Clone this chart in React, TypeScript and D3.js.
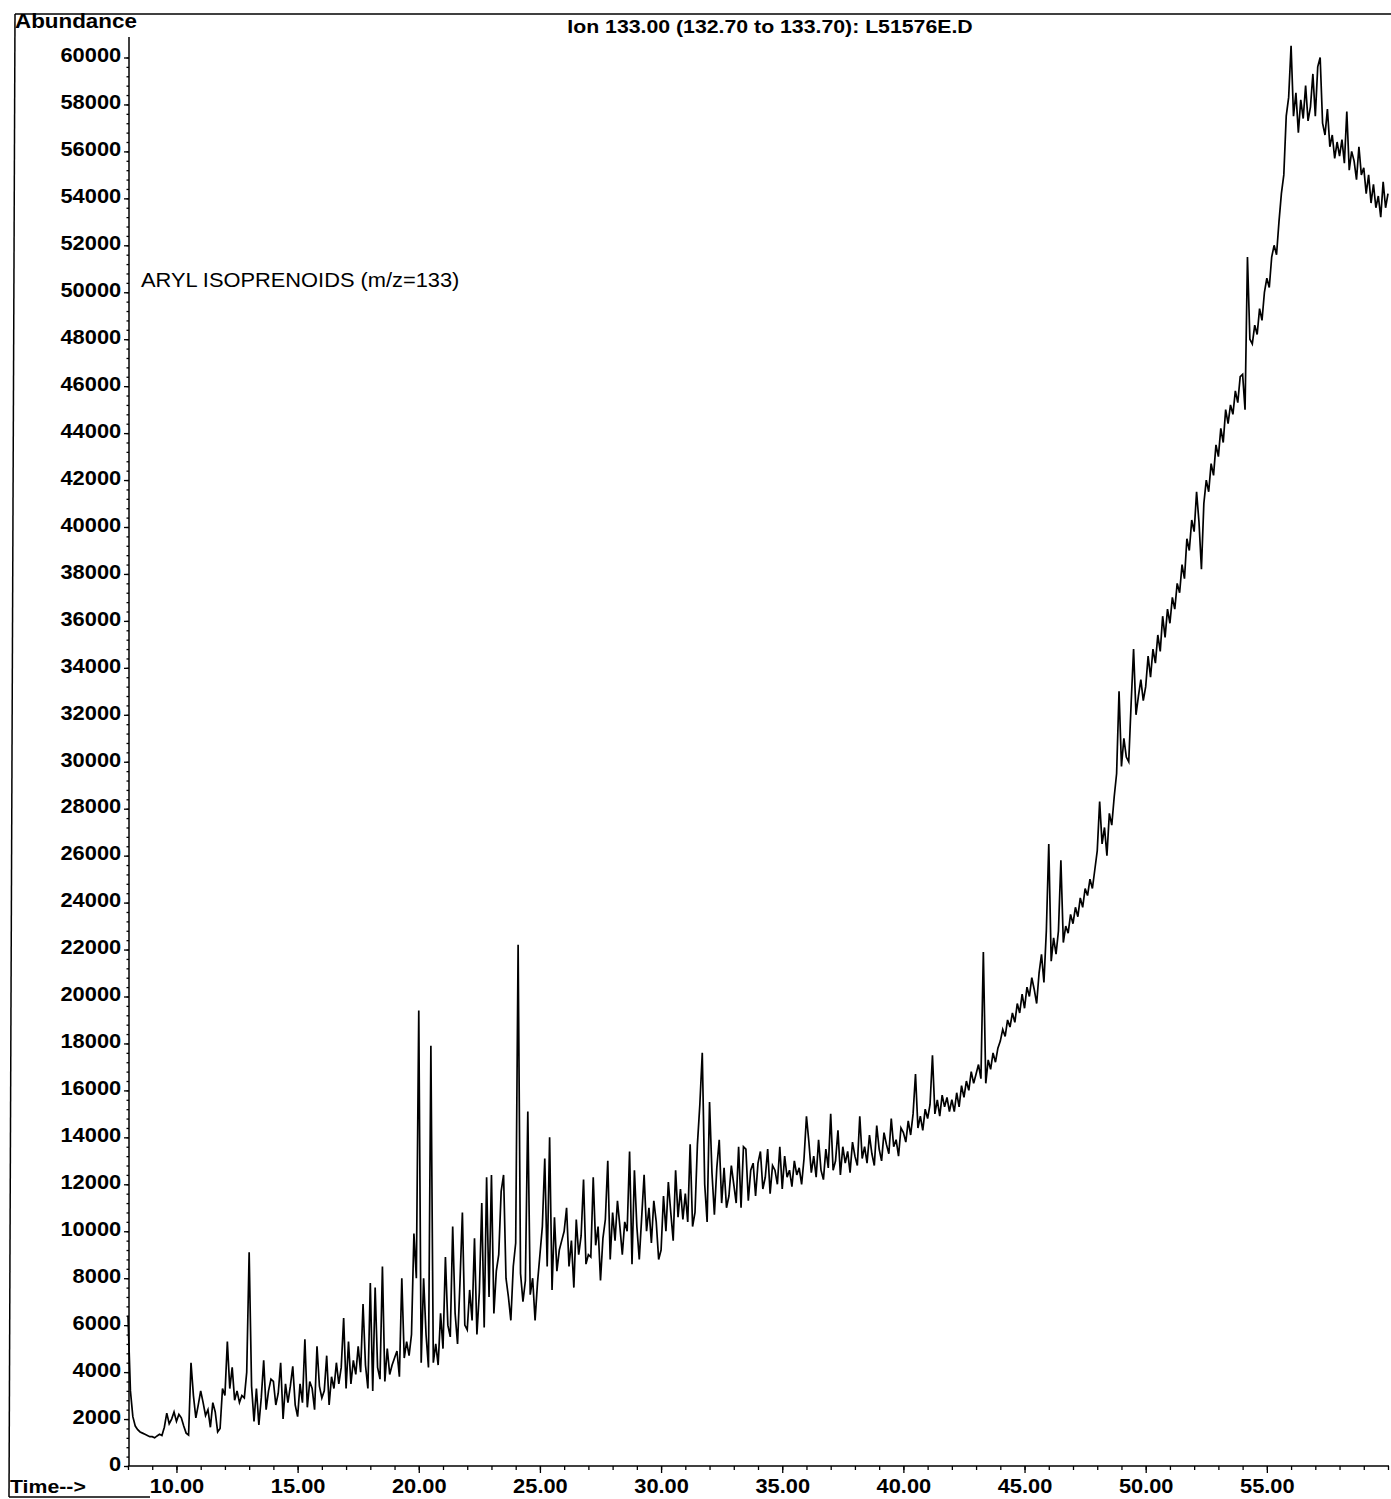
import React, { useEffect, useRef } from "react";
import * as d3 from "d3";

// Sampling grid of the trace (minutes)
const startTime = 8;
const sampleStep = 0.1;

// Abundance, 10 samples per minute
const abundance08to20 = [
  6400, 3200, 2100, 1700, 1550, 1450, 1400, 1350, 1300, 1250,
  1250, 1200, 1280, 1350, 1300, 1650, 2250, 1800, 2000, 2300,
  1900, 2200, 2050, 1700, 1400, 1320, 4400, 3000, 2050, 2600,
  3200, 2700, 2150, 2400, 1650, 2700, 2300, 1450, 1600, 3300,
  3000, 5300, 3300, 4200, 2800, 3200, 2700, 3000, 2900, 4000,
  9100, 3400, 1900, 3300, 1750, 2900, 4500, 2400, 3200, 3700,
  3600, 2600, 3100, 4400, 2000, 3500, 2700, 3400, 4250, 2600,
  2100, 3500, 2700, 5400, 2500, 3600, 3300, 2400, 5100, 3400,
  2900, 3200, 4700, 2600, 3800, 3300, 4400, 3500, 4200, 6300,
  3300, 5300, 3500, 4500, 3900, 5100, 4000, 6900, 4300, 3300,
  7800, 3200, 7600, 4200, 3700, 8500, 3600, 5000, 3900, 4300,
  4600, 4900, 3800, 8000, 4600, 5300, 4700, 5600, 9900, 8000,
];
const abundance20to32 = [
  19400, 4400, 8000, 5600, 4200, 17900, 4400, 5200, 4300, 6500,
  5000, 8900, 6000, 5500, 10200, 6500, 5200, 7800, 10800, 6000,
  5800, 7500, 6200, 9700, 5600, 7400, 11200, 5900, 12300, 7200,
  12400, 6500, 8300, 9000, 11700, 12400, 8000, 7200, 6200, 8500,
  9500, 22200, 8200, 7000, 7900, 15100, 7300, 8000, 6200, 7800,
  9000, 10200, 13100, 8500, 14000, 7500, 10600, 8300, 9200, 9600,
  10000, 11000, 8500, 9600, 7600, 10500, 9000, 9800, 12200, 8600,
  9000, 8900, 12300, 9400, 10200, 7900, 9700, 10500, 13000, 8800,
  10800, 9600, 11300, 10200, 9000, 10400, 10000, 13400, 8600, 12600,
  10200, 8800, 10600, 12400, 10000, 11000, 9500, 11300, 10400, 8800,
  9200, 11500, 10000, 12100, 10800, 9600, 12600, 10600, 11800, 10500,
  11600, 10400, 13700, 10200, 10800, 13700, 15400, 17600, 12000, 10400,
];
const abundance32to44 = [
  15500, 12500, 10700, 12700, 13900, 11200, 12700, 11000, 11500, 12800,
  12000, 11200, 13600, 11000, 13600, 13500, 11300, 12600, 12900, 11500,
  12900, 13400, 11800, 12300, 13500, 11600, 12800, 12600, 12000, 13600,
  11800, 13200, 12300, 12600, 11900, 13000, 12400, 12700, 12000, 13100,
  14900, 13800, 12500, 13200, 12300, 13900, 12600, 12200, 13500, 12700,
  15000, 12600, 13000, 14300, 12400, 13600, 12900, 13400, 12500, 13800,
  13200, 12800, 14900, 13100, 13600, 12900, 14100, 13300, 12800, 14500,
  13500, 13000, 14200, 13700, 13300, 14800, 13600, 13900, 13200, 14400,
  14200, 13800, 14700, 14100, 15000, 16700, 14400, 14900, 14300, 15200,
  14800, 15400, 17500, 15000, 15600, 14900, 15800, 15300, 15700, 15100,
  15600, 15100, 15900, 15300, 16200, 15700, 16400, 16000, 16800, 16300,
  16700, 17100, 16500, 21900, 16300, 17300, 16900, 17600, 17200, 17800,
];
const abundance44to60 = [
  18100, 18600, 18300, 19000, 18700, 19300, 18900, 19700, 19300, 20100,
  19500, 20400, 20000, 20800, 20300, 19700, 21000, 21800, 20600, 22800,
  26500, 21500, 22500, 21800, 22800, 25800, 22300, 23000, 22700, 23500,
  23100, 23800, 23400, 24200, 23800, 24600, 24300, 25000, 24600, 25400,
  26200, 28300, 26500, 27200, 26000, 27800, 27300, 28500, 29500, 33000,
  29800, 31000, 30200, 30000, 32500, 34800, 32000, 32800, 33500, 32600,
  33200, 34500, 33600, 34800, 34200, 35400, 34700, 36200, 35300, 36500,
  35900, 37000, 36500, 37600, 37200, 38400, 37800, 39500, 39000, 40300,
  39800, 41500, 40200, 38200, 41000, 42000, 41500, 42700, 42200, 43500,
  43000, 44200, 43600, 45000, 44400, 45200, 44800, 45800, 45300, 46400,
  46500, 45000, 51500, 48000, 47800, 48600, 48200, 49300, 48800, 50000,
  50600, 50200, 51500, 52000, 51600, 53000, 54200, 55000, 57500, 58300,
  60500, 57500, 58500, 56800, 58200, 57400, 58800, 57300, 57900, 59300,
  57500, 59600, 60000, 57200, 56700, 57800, 56200, 56700, 55700, 56400,
  55800, 56500, 55500, 57700, 55200, 56000, 55600, 54800, 56200, 55000,
  55300, 54200, 55000, 53800, 54600, 53600, 54100, 53200, 54700, 53600,
  54200,
];

const xMajorTicks = [10, 15, 20, 25, 30, 35, 40, 45, 50, 55];
const yMajorTicks = [
  0, 2000, 4000, 6000, 8000, 10000, 12000, 14000, 16000, 18000, 20000,
  22000, 24000, 26000, 28000, 30000, 32000, 34000, 36000, 38000, 40000,
  42000, 44000, 46000, 48000, 50000, 52000, 54000, 56000, 58000, 60000,
];

const titleText = "Ion 133.00 (132.70 to 133.70): L51576E.D";
const yTitle = "Abundance";
const xTitle = "Time-->";
const annotation = "ARYL ISOPRENOIDS (m/z=133)";

const FONT = "'Liberation Sans', Arial, Helvetica, sans-serif";

export default function App() {
  const ref = useRef<SVGSVGElement>(null);

  useEffect(() => {
    const svg = d3.select(ref.current);
    svg.selectAll("*").remove();

    const values = [
      ...abundance08to20,
      ...abundance20to32,
      ...abundance32to44,
      ...abundance44to60,
    ];
    const data = values.map((v, i) => ({ t: startTime + i * sampleStep, v }));

    const x = d3.scaleLinear().domain([8, 60]).range([128, 1388]);
    const y = d3.scaleLinear().domain([0, 60000]).range([1466, 57.5]);
    const axisX = 129;

    svg.append("rect").attr("width", 1391).attr("height", 1499).attr("fill", "#fff");

    // frame lines of the printout
    const frame = svg.append("g").attr("stroke", "#000").attr("fill", "none");
    frame.append("line").attr("x1", 15).attr("y1", 14).attr("x2", 1391).attr("y2", 14).attr("stroke-width", 1.5);
    frame.append("line").attr("x1", 15).attr("y1", 14).attr("x2", 9).attr("y2", 1497).attr("stroke-width", 1.5);
    frame.append("line").attr("x1", 9).attr("y1", 1497).attr("x2", 150).attr("y2", 1497).attr("stroke-width", 1.5);

    // Y axis
    const yMinor = svg.append("g").attr("transform", `translate(${axisX},0)`)
      .call(d3.axisLeft(y).tickValues(d3.range(0, 60001, 400)).tickSize(2.5).tickFormat(() => ""));
    yMinor.select(".domain").remove();
    const yAx = svg.append("g").attr("transform", `translate(${axisX},0)`)
      .call(d3.axisLeft(y).tickValues(yMajorTicks).tickSize(5).tickFormat(d3.format("d")));
    yAx.select(".domain").remove();
    svg.append("line").attr("x1", axisX).attr("x2", axisX).attr("y1", 1466).attr("y2", 37)
      .attr("stroke", "#000").attr("stroke-width", 1.5);

    // X axis
    const xMinor = svg.append("g").attr("transform", "translate(0,1466)")
      .call(d3.axisBottom(x).tickValues(d3.range(8, 61, 1)).tickSize(4).tickFormat(() => ""));
    xMinor.select(".domain").remove();
    const xAx = svg.append("g").attr("transform", "translate(0,1466)")
      .call(d3.axisBottom(x).tickValues(xMajorTicks).tickSize(7).tickFormat((d) => (+d).toFixed(2)));
    xAx.select(".domain").remove();
    svg.append("line").attr("x1", 128).attr("x2", 1389).attr("y1", 1466).attr("y2", 1466)
      .attr("stroke", "#000").attr("stroke-width", 1.5);

    svg.selectAll(".tick line").attr("stroke", "#000").attr("stroke-width", 1.3);
    yAx.selectAll("text")
      .attr("font-family", FONT).attr("font-size", 19.5).attr("font-weight", "bold").attr("fill", "#000")
      .attr("dy", "0.22em").attr("x", -7).attr("transform", "scale(1.12,1)");
    xAx.selectAll("text")
      .attr("font-family", FONT).attr("font-size", 19.5).attr("font-weight", "bold").attr("fill", "#000")
      .attr("y", 13).attr("transform", "scale(1.12,1)");

    // trace
    const line = d3.line<{ t: number; v: number }>().x((d) => x(d.t)).y((d) => y(d.v));
    svg.append("path").datum(data).attr("d", line).attr("fill", "none")
      .attr("stroke", "#000").attr("stroke-width", 1.7).attr("stroke-linejoin", "miter");

    // texts
    const txt = (s: string, tx: number, ty: number, size: number, weight: string, anchor = "start") =>
      svg.append("text").attr("transform", `translate(${tx},${ty}) scale(1.12,1)`)
        .attr("font-family", FONT).attr("font-size", size).attr("font-weight", weight)
        .attr("text-anchor", anchor).attr("fill", "#000").text(s);

    txt(yTitle, 15, 28, 20, "bold");
    txt(titleText, 770, 33, 19, "bold", "middle");
    txt(xTitle, 10, 1493, 19, "bold");
    txt(annotation, 141, 287, 19.5, "normal");
  }, []);

  return (
    <svg
      ref={ref}
      width={1391}
      height={1499}
      style={{ position: "absolute", left: 0, top: 0, background: "#fff" }}
    />
  );
}
